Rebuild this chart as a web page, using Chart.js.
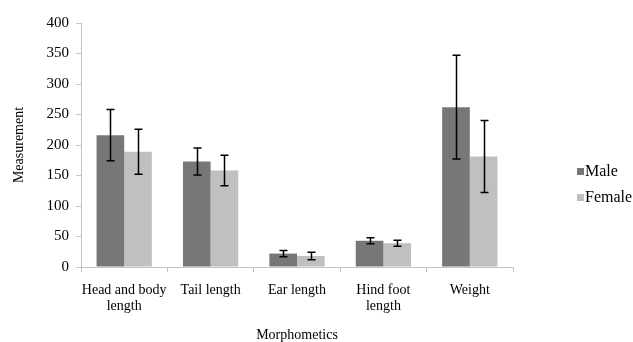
<!DOCTYPE html>
<html>
<head>
<meta charset="utf-8">
<script src="https://cdn.jsdelivr.net/npm/chart.js@4"></script>
<style>
  html, body { margin: 0; padding: 0; background: #ffffff; }
  #wrap { width: 633px; height: 342px; position: relative; }
</style>
</head>
<body>
<div id="wrap"><canvas id="chart" width="633" height="342"></canvas></div>
<script>
const categories = [["Head and body", "length"], "Tail length", "Ear length", ["Hind foot", "length"], "Weight"];
const maleValues = [216, 173, 22, 43, 262];
const maleErrors = [42, 22, 5, 5, 85];
const femaleValues = [189, 158, 18, 39, 181];
const femaleErrors = [37, 25, 6, 5, 59];
const seriesNames = ["Male", "Female"];
const yTicks = [0, 50, 100, 150, 200, 250, 300, 350, 400];

const FONT = "'Liberation Serif', 'Times New Roman', serif";
const MALE_COLOR = "#777777";
const FEMALE_COLOR = "#c0c0c0";
const AXIS_COLOR = "#c4c4c4";

// Standard-deviation whiskers on top of each bar
const errorBars = {
  id: "errorBars",
  afterDatasetsDraw(chart) {
    const ctx = chart.ctx;
    const y = chart.scales.y;
    ctx.save();
    ctx.strokeStyle = "#000000";
    ctx.lineWidth = 1.5;
    chart.data.datasets.forEach((ds, di) => {
      const meta = chart.getDatasetMeta(di);
      meta.data.forEach((bar, i) => {
        const v = ds.data[i];
        const e = ds.errors[i];
        const yt = y.getPixelForValue(v + e);
        const yb = y.getPixelForValue(v - e);
        const x = Math.round(bar.x) + 0.5;
        ctx.beginPath();
        ctx.moveTo(x, yt); ctx.lineTo(x, yb);
        ctx.moveTo(x - 4, yt); ctx.lineTo(x + 4, yt);
        ctx.moveTo(x - 4, yb); ctx.lineTo(x + 4, yb);
        ctx.stroke();
      });
    });
    ctx.restore();
  }
};

// Legend placed to the right of the plot
const sideLegend = {
  id: "sideLegend",
  afterDraw(chart) {
    const ctx = chart.ctx;
    ctx.save();
    ctx.font = "16px " + FONT;
    ctx.textBaseline = "middle";
    chart.data.datasets.forEach((ds, i) => {
      const cy = 171 + i * 26;
      ctx.fillStyle = ds.backgroundColor;
      ctx.fillRect(577, cy - 3, 7, 7);
      ctx.fillStyle = "#000000";
      ctx.fillText(ds.label, 585, cy + 1);
    });
    ctx.restore();
  }
};

new Chart(document.getElementById("chart"), {
  type: "bar",
  data: {
    labels: categories,
    datasets: [
      { label: seriesNames[0], data: maleValues, errors: maleErrors, backgroundColor: MALE_COLOR },
      { label: seriesNames[1], data: femaleValues, errors: femaleErrors, backgroundColor: FEMALE_COLOR }
    ]
  },
  options: {
    responsive: false,
    animation: false,
    devicePixelRatio: 1,
    layout: { padding: { top: 23, right: 120, left: 0, bottom: 0 } },
    datasets: { bar: { categoryPercentage: 0.64, barPercentage: 1.0 } },
    plugins: { legend: { display: false }, tooltip: { enabled: false } },
    scales: {
      x: {
        offset: true,
        grid: { offset: true, drawOnChartArea: false, color: AXIS_COLOR, tickLength: 5 },
        border: { color: AXIS_COLOR, width: 1 },
        ticks: { color: "#000000", font: { family: FONT, size: 14, lineHeight: 1.1 }, padding: 11, maxRotation: 0, autoSkip: false },
        title: { display: true, text: "Morphometics", color: "#000000", font: { family: FONT, size: 14, lineHeight: 1.0 }, padding: { top: 12, bottom: 0 } },
        afterFit(scale) { scale.height = 75; }
      },
      y: {
        min: 0,
        max: 400,
        afterBuildTicks(scale) { scale.ticks = yTicks.map(v => ({ value: v })); },
        grid: { drawOnChartArea: false, color: AXIS_COLOR, tickLength: 5 },
        border: { color: AXIS_COLOR, width: 1 },
        ticks: { color: "#000000", font: { family: FONT, size: 15 }, padding: 7 },
        title: { display: true, text: "Measurement", color: "#000000", font: { family: FONT, size: 14 }, padding: { top: 11, bottom: 8 } },
        afterFit(scale) { scale.width = 81; }
      }
    }
  },
  plugins: [errorBars, sideLegend]
});
</script>
</body>
</html>
